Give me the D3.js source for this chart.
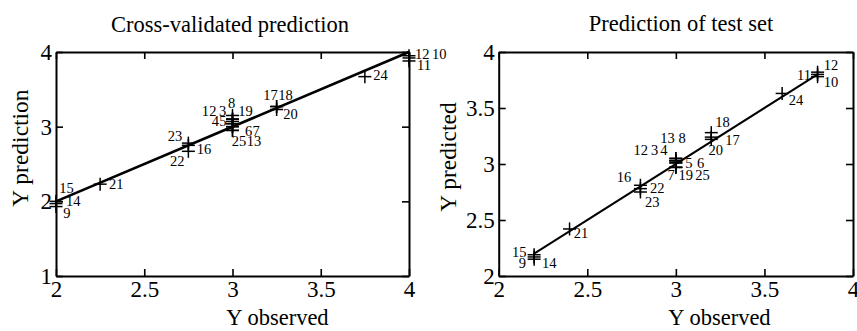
<!DOCTYPE html>
<html>
<head>
<meta charset="utf-8">
<script src="https://cdn.jsdelivr.net/npm/d3@7"></script>
<style>
  body { margin: 0; background: #fff; }
  svg text { font-family: "Liberation Serif", "Times New Roman", Times, serif; fill: #000; }
</style>
</head>
<body>
<svg id="chart" width="857" height="331"></svg>
<script>
// Sample identifiers (1..25)
const sampleIds = [1,2,3,4,5,6,7,8,9,10,11,12,13,14,15,16,17,18,19,20,21,22,23,24,25];

// Cross-validated prediction: observed vs predicted Y
const cvObserved  = [3,3,3,3,3,3,3,3,2,4,4,4,3,2,2,2.75,3.25,3.25,3,3.25,2.25,2.75,2.75,3.75,3];
const cvPredicted = [3.10,3.10,3.10,3.04,3.04,3.00,3.00,3.15,1.93,3.95,3.88,3.92,2.95,1.97,2.00,2.75,3.27,3.27,3.07,3.23,2.23,2.67,2.78,3.67,2.95];

// Prediction of test set: observed vs predicted Y
const testObserved  = [3,3,3,3,3,3,3,3,2.2,3.8,3.8,3.8,3,2.2,2.2,2.8,3.2,3.2,3,3.2,2.4,2.8,2.8,3.6,3];
const testPredicted = [3.03,3.03,3.03,3.03,3.01,3.01,2.97,3.05,2.15,3.78,3.80,3.82,3.05,2.17,2.19,2.81,3.24,3.28,2.97,3.22,2.42,2.78,2.75,3.63,2.97];

// Axis ticks
const cvXTicks   = [2, 2.5, 3, 3.5, 4];
const cvYTicks   = [1, 2, 3, 4];
const testXTicks = [2, 2.5, 3, 3.5, 4];
const testYTicks = [2, 2.5, 3, 3.5, 4];

// Label nudges (px) from each marker, so crowded ids stay readable
const cvLabelNudge = {
  1:[-30.8,-2.8], 2:[-23.3,-2.8], 3:[-13.5,-2.8], 4:[-20.8,2.7], 5:[-13.3,2.7],
  6:[12.5,9], 7:[20,9], 8:[-4.5,-7.5], 9:[7.3,11.1], 10:[23,2.2],
  11:[8,9], 12:[6,0.7], 13:[14.2,15.9], 14:[10,2.5], 15:[3.3,-8.7],
  16:[8.3,8.2], 17:[-13.3,-6.8], 18:[1.7,-6.8], 19:[5.8,-5.1], 20:[6.7,9.2],
  21:[8.9,4.5], 22:[-18.4,14.2], 23:[-20.7,-1.8], 24:[8.4,3.2], 25:[-0.8,15.9]
};
const testLabelNudge = {
  1:[-42.3,-5.6], 2:[-35.0,-5.6], 3:[-24.9,-5.6], 4:[-15.6,-5.6], 5:[9.4,5.4],
  6:[21.1,5.4], 7:[-8.3,12.6], 8:[2.7,-15.1], 9:[-15.4,9.1], 10:[6.1,10.7],
  11:[-20.6,5.6], 12:[6.1,-2.2], 13:[-15.6,-15.1], 14:[7.9,11.3], 15:[-22.1,2],
  16:[-23.7,-3.6], 17:[13.9,7.9], 18:[3.9,-5.9], 19:[2.7,12.6], 20:[-2.8,15.6],
  21:[4.1,9.3], 22:[9.6,4.7], 23:[4.6,14.7], 24:[6.6,11.6], 25:[19.4,12.6]
};
// Ids whose labels share one line of text
const cvLabelRows   = [[1,2,3],[4,5],[6,7],[25,13],[17,18],[12,10]];
const testLabelRows = [[1,2,3,4],[13,8],[5,6],[7,19,25]];

const FONT = "'Liberation Serif', 'Times New Roman', Times, serif";
const svg = d3.select("#chart");

const panels = [
  {
    title: "Cross-validated prediction", xLabel: "Y observed", yLabel: "Y prediction",
    obs: cvObserved, pred: cvPredicted, nudge: cvLabelNudge, rows: cvLabelRows,
    xTicks: cvXTicks, yTicks: cvYTicks, xDomain: [2, 4], yDomain: [1, 4],
    box: { left: 56, right: 409, top: 52, bottom: 276 },
    titlePos: [230, 32], xLabelPos: [277.5, 325], yLabelPos: [28, 148],
    lineWidth: 2.6
  },
  {
    title: "Prediction of test set", xLabel: "Y observed", yLabel: "Y predicted",
    obs: testObserved, pred: testPredicted, nudge: testLabelNudge, rows: testLabelRows,
    xTicks: testXTicks, yTicks: testYTicks, xDomain: [2, 4], yDomain: [2, 4],
    box: { left: 498.7, right: 853, top: 52, bottom: 276 },
    titlePos: [681, 31], xLabelPos: [719.5, 325], yLabelPos: [456, 157],
    lineWidth: 2
  }
];

const fmt = d => String(d);

panels.forEach(p => {
  const b = p.box;
  const x = d3.scaleLinear().domain(p.xDomain).range([b.left, b.right]);
  const y = d3.scaleLinear().domain(p.yDomain).range([b.bottom, b.top]);
  const g = svg.append("g");

  // Frame with inward ticks on all four sides
  const styleAxis = sel => {
    sel.attr("font-family", FONT).attr("font-size", 23);
    sel.selectAll(".domain").attr("stroke", "#000").attr("stroke-width", 2);
    sel.selectAll(".tick line").attr("stroke", "#000").attr("stroke-width", 1.6);
    sel.selectAll(".tick text").attr("fill", "#000");
  };
  g.append("g").attr("transform", `translate(0,${b.bottom})`)
    .call(d3.axisBottom(x).tickValues(p.xTicks).tickFormat(fmt).tickSizeInner(-7).tickSizeOuter(0).tickPadding(5))
    .call(styleAxis);
  g.append("g").attr("transform", `translate(0,${b.top})`)
    .call(d3.axisTop(x).tickValues(p.xTicks).tickFormat("").tickSizeInner(-7).tickSizeOuter(0))
    .call(styleAxis);
  g.append("g").attr("transform", `translate(${b.left},0)`)
    .call(d3.axisLeft(y).tickValues(p.yTicks).tickFormat(fmt).tickSizeInner(-7).tickSizeOuter(0).tickPadding(4))
    .call(styleAxis);
  g.append("g").attr("transform", `translate(${b.right},0)`)
    .call(d3.axisRight(y).tickValues(p.yTicks).tickFormat("").tickSizeInner(-7).tickSizeOuter(0))
    .call(styleAxis);

  // Identity line across the observed range
  const lo = d3.min(p.obs), hi = d3.max(p.obs);
  g.append("line")
    .attr("x1", x(lo)).attr("y1", y(lo))
    .attr("x2", x(hi)).attr("y2", y(hi))
    .attr("stroke", "#000").attr("stroke-width", p.lineWidth);

  // Plus markers
  const pts = sampleIds.map((id, i) => ({ id, ox: p.obs[i], py: p.pred[i] }));
  const byId = new Map(pts.map(d => [d.id, d]));
  const s = 6.5;
  const mk = g.append("g").selectAll("g").data(pts).join("g")
    .attr("transform", d => `translate(${x(d.ox)},${y(d.py)})`);
  mk.append("line").attr("x1", -s).attr("x2", s).attr("y1", 0).attr("y2", 0)
    .attr("stroke", "#000").attr("stroke-width", 1.5);
  mk.append("line").attr("x1", 0).attr("x2", 0).attr("y1", -s).attr("y2", s)
    .attr("stroke", "#000").attr("stroke-width", 1.5);

  // Sample id labels, one text per row of neighbouring ids
  const grouped = new Set(p.rows.flat());
  const rows = p.rows.concat(sampleIds.filter(id => !grouped.has(id)).map(id => [id]));
  const lx = id => x(byId.get(id).ox) + p.nudge[id][0];
  const ly = id => y(byId.get(id).py) + p.nudge[id][1];
  const rowText = g.append("g").selectAll("text").data(rows).join("text")
    .attr("font-family", FONT).attr("font-size", 14.5)
    .attr("x", r => lx(r[0])).attr("y", r => ly(r[0]));
  rowText.selectAll("tspan").data(r => r).join("tspan")
    .attr("x", id => lx(id))
    .text(id => id);

  // Titles
  g.append("text").attr("x", p.titlePos[0]).attr("y", p.titlePos[1])
    .attr("text-anchor", "middle").attr("font-family", FONT).attr("font-size", 22.5).text(p.title);
  g.append("text").attr("x", p.xLabelPos[0]).attr("y", p.xLabelPos[1])
    .attr("text-anchor", "middle").attr("font-family", FONT).attr("font-size", 22.5).text(p.xLabel);
  g.append("text")
    .attr("transform", `translate(${p.yLabelPos[0]},${p.yLabelPos[1]}) rotate(-90)`)
    .attr("text-anchor", "middle").attr("font-family", FONT).attr("font-size", 23.5).text(p.yLabel);
});
</script>
</body>
</html>
